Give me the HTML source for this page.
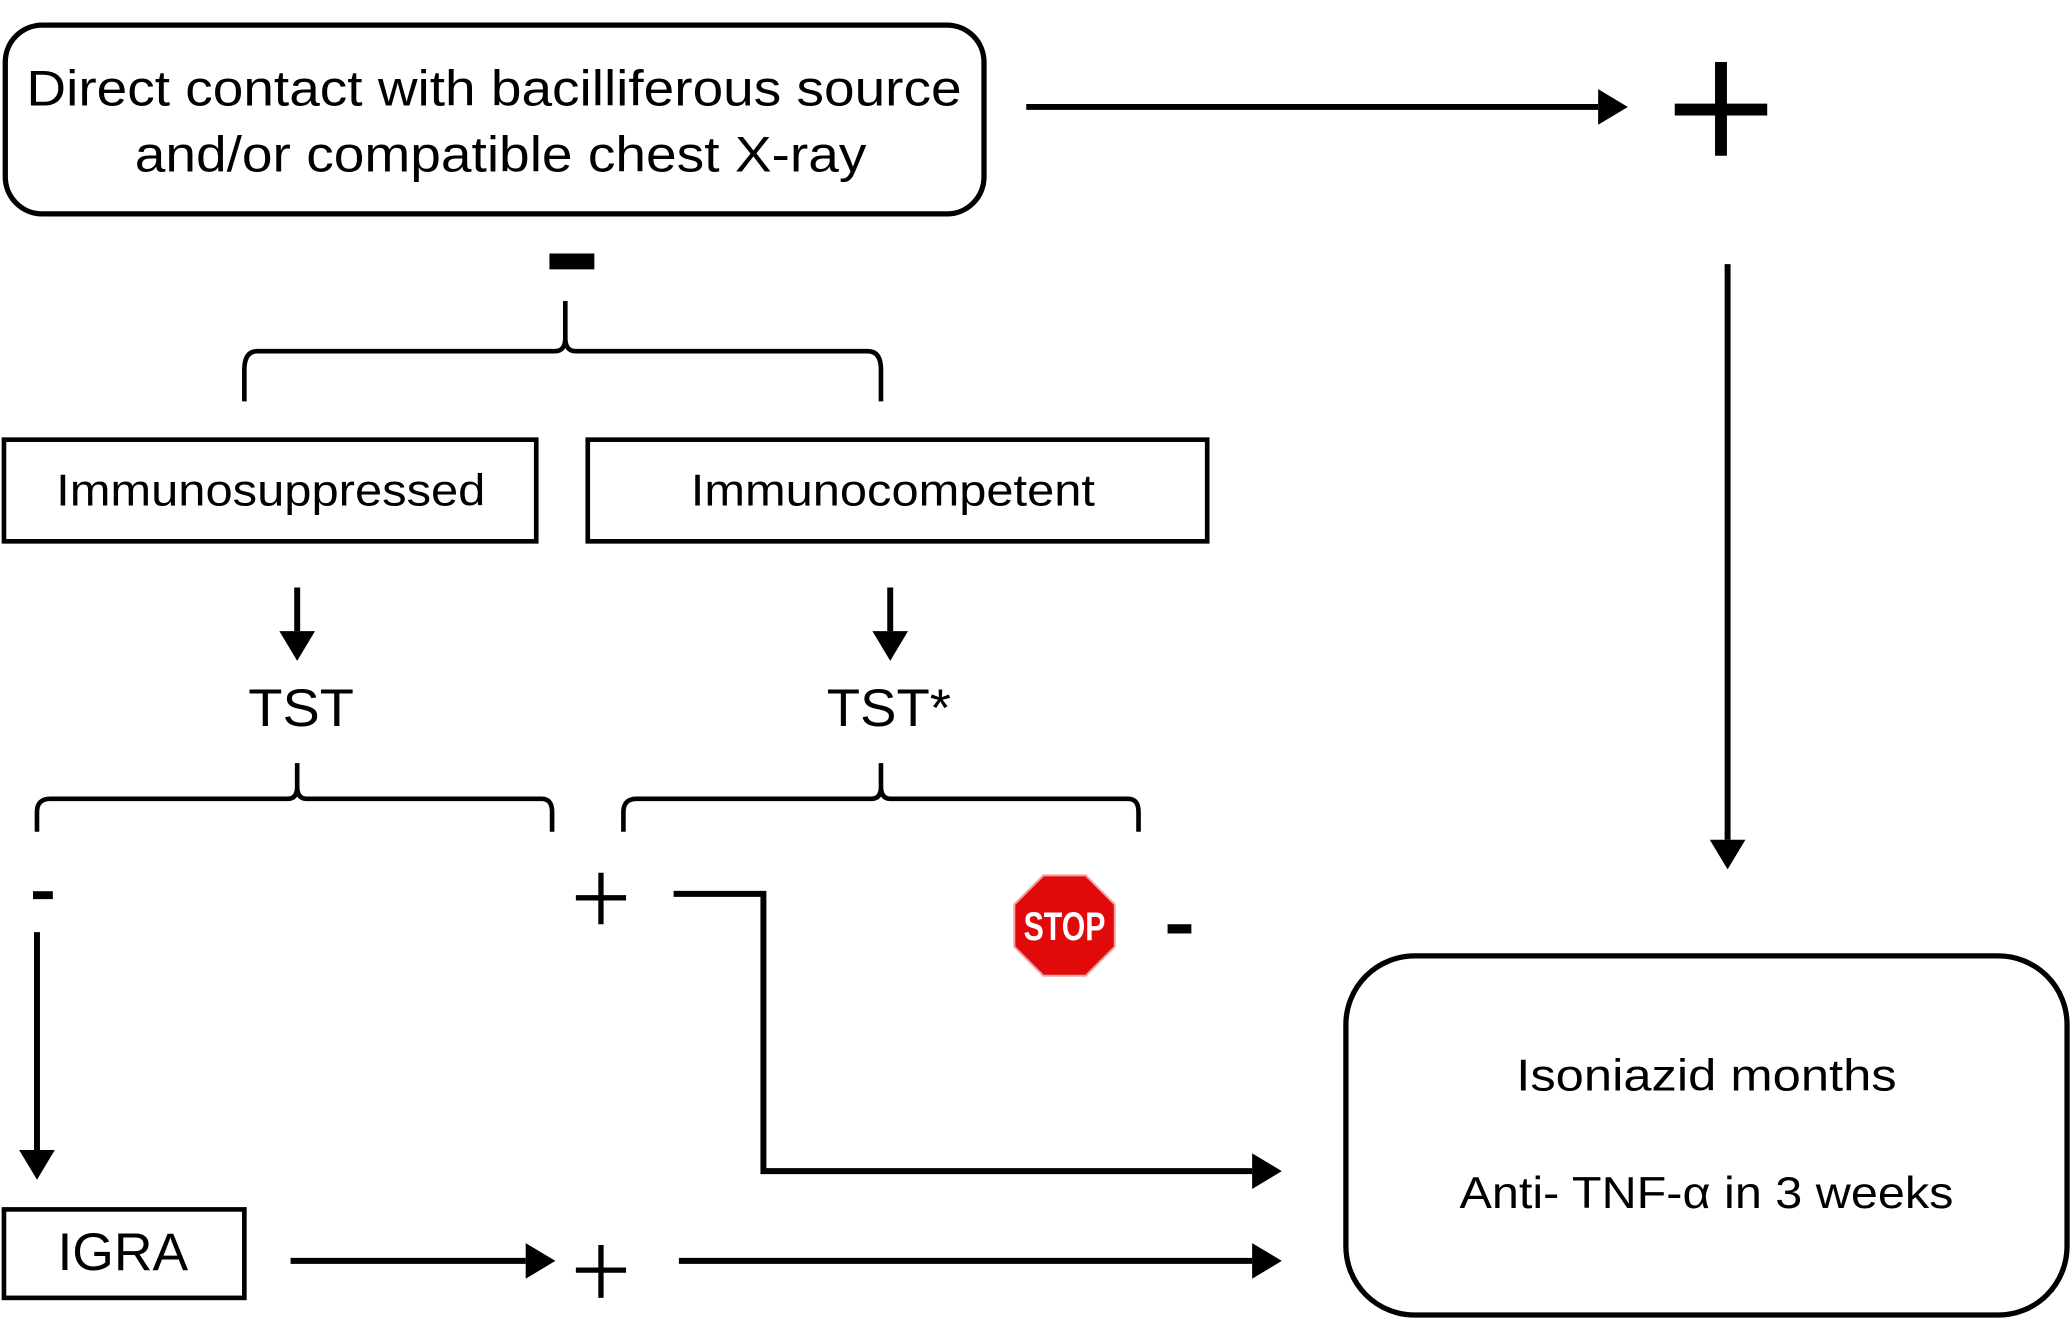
<!DOCTYPE html>
<html><head><meta charset="utf-8"><style>
html,body{margin:0;padding:0;background:#fff;overflow:hidden}
svg{display:block}
text{font-family:"Liberation Sans Narrow","Liberation Sans",sans-serif;fill:#000}
</style></head><body>
<svg width="2071" height="1319" viewBox="0 0 1568 999" preserveAspectRatio="none" xmlns="http://www.w3.org/2000/svg">
<defs>
<marker id="ah" markerWidth="6" markerHeight="6" refX="0" refY="3" orient="auto" markerUnits="strokeWidth">
<path d="M0,0 L5,3 L0,6 Z" fill="#000"/>
</marker>
</defs>
<g fill="none" stroke="#000">
<rect x="4" y="19" width="741" height="143" rx="28" stroke-width="4"/>
<rect x="3" y="333" width="403" height="77" stroke-width="3.5"/>
<rect x="445" y="333" width="469" height="77" stroke-width="3.5"/>
<rect x="3" y="916" width="182" height="67" stroke-width="3.5"/>
<rect x="1019" y="724" width="546" height="272" rx="52" stroke-width="4"/>
<path d="M185,304 L185,280 Q185,266 195,266 L420,266 Q428,266 428,256 L428,228 M428,256 Q428,266 436,266 L657,266 Q667,266 667,280 L667,304" stroke-width="3.5"/>
<path d="M28,630 L28,615 Q28,605 38,605 L218,605 Q225,605 225,596 L225,578 M225,596 Q225,605 232,605 L410,605 Q418,605 418,615 L418,630" stroke-width="3.5"/>
<path d="M472,630 L472,615 Q472,605 482,605 L660,605 Q667,605 667,596 L667,578 M667,596 Q667,605 674,605 L854,605 Q862,605 862,615 L862,630" stroke-width="3.5"/>
<g stroke-width="4.5">
<line x1="777" y1="81" x2="1210" y2="81" marker-end="url(#ah)"/>
<line x1="1308" y1="200" x2="1308" y2="636" marker-end="url(#ah)"/>
<line x1="225" y1="445" x2="225" y2="478" marker-end="url(#ah)"/>
<line x1="674" y1="445" x2="674" y2="478" marker-end="url(#ah)"/>
<line x1="28" y1="706" x2="28" y2="871" marker-end="url(#ah)"/>
<polyline points="510,677 578,677 578,887 948,887" marker-end="url(#ah)"/>
<line x1="220" y1="955" x2="398" y2="955" marker-end="url(#ah)"/>
<line x1="514" y1="955" x2="948" y2="955" marker-end="url(#ah)"/>
</g>
<path d="M1268,83 L1338,83 M1303,47 L1303,118" stroke-width="9"/>
<path d="M436,680 L474,680 M455,661 L455,700" stroke-width="4"/>
<path d="M436,962 L474,962 M455,943 L455,983" stroke-width="4"/>
</g>
<rect x="416" y="192" width="34" height="12" fill="#000"/>
<rect x="25" y="675" width="15" height="6" fill="#000"/>
<rect x="884" y="700" width="18" height="7" fill="#000"/>
<polygon points="790,663 822,663 844,685 844,717 822,739 790,739 768,717 768,685" fill="#e00a0a" stroke="#f2a0a0" stroke-width="1.5"/>
<text x="806" y="712" text-anchor="middle" font-size="30" font-weight="bold" style="fill:#fff" textLength="62" lengthAdjust="spacingAndGlyphs">STOP</text>
<text x="374" y="80" text-anchor="middle" font-size="38" textLength="708" lengthAdjust="spacingAndGlyphs">Direct contact with bacilliferous source</text>
<text x="379" y="130" text-anchor="middle" font-size="38" textLength="554" lengthAdjust="spacingAndGlyphs">and/or compatible chest X-ray</text>
<text x="205" y="383" text-anchor="middle" font-size="34" textLength="325" lengthAdjust="spacingAndGlyphs">Immunosuppressed</text>
<text x="676" y="383" text-anchor="middle" font-size="34" textLength="306" lengthAdjust="spacingAndGlyphs">Immunocompetent</text>
<text x="228" y="550" text-anchor="middle" font-size="40" textLength="80" lengthAdjust="spacingAndGlyphs">TST</text>
<text x="673" y="550" text-anchor="middle" font-size="40" textLength="94" lengthAdjust="spacingAndGlyphs">TST*</text>
<text x="93" y="962" text-anchor="middle" font-size="40" textLength="99" lengthAdjust="spacingAndGlyphs">IGRA</text>
<text x="1292" y="826" text-anchor="middle" font-size="34" textLength="288" lengthAdjust="spacingAndGlyphs">Isoniazid  months</text>
<text x="1292" y="915" text-anchor="middle" font-size="34" textLength="374" lengthAdjust="spacingAndGlyphs">Anti- TNF-α in 3 weeks</text>
</svg>
</body></html>
